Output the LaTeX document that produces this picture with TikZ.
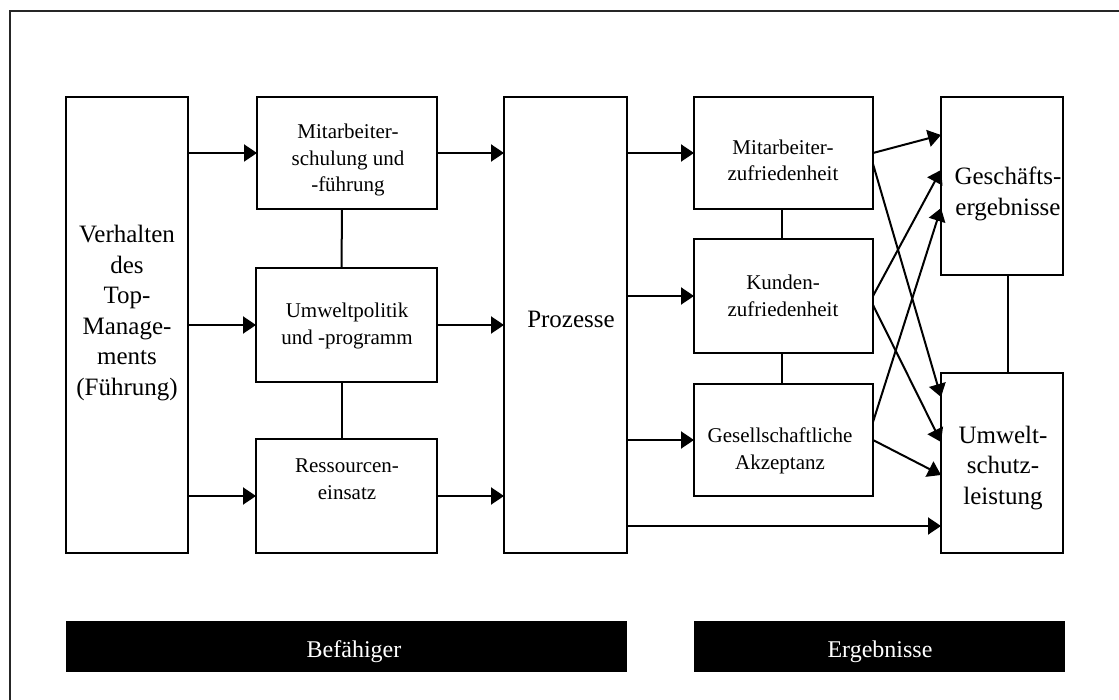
\documentclass[tikz,border=0pt]{standalone}
\usepackage{fontspec}
\setmainfont{Liberation Serif}
\usetikzlibrary{arrows.meta}
\begin{document}
\begin{tikzpicture}[x=1pt,y=-1pt,
  box/.style={draw=black,line width=2pt,inner sep=0pt,outer sep=0pt},
  bar/.style={fill=black,draw=none,inner sep=0pt,outer sep=0pt},
  bigtxt/.style={align=center,inner sep=0pt,font=\fontsize{25}{30.5}\selectfont},
  midtxt/.style={align=center,inner sep=0pt,font=\fontsize{21}{26.5}\selectfont},
  bartxt/.style={inner sep=0pt,text=white,font=\fontsize{24}{28}\selectfont},
  arr/.style={line width=2pt,-{Triangle[length=13pt,width=17pt]}},
  link/.style={line width=2pt}]
\useasboundingbox (0,0) rectangle (1119,700);
\clip (0,0) rectangle (1119,700);
% frame around the whole figure
\draw[line width=2.2pt,black!85] (10,11) rectangle (1140,720);

% enablers
\node[box,minimum width=122pt,minimum height=456pt] (lb) at (127,325) {};
\node[box,minimum width=180pt,minimum height=112pt] (ms) at (347,153) {};
\node[box,minimum width=181pt,minimum height=114pt] (up) at (346.5,325) {};
\node[box,minimum width=181pt,minimum height=114pt] (re) at (346.5,496) {};
\node[box,minimum width=123pt,minimum height=456pt] (pr) at (565.5,325) {};

% results
\node[box,minimum width=179pt,minimum height=112pt] (mz) at (783.5,153) {};
\node[box,minimum width=179pt,minimum height=114pt] (kz) at (783.5,296) {};
\node[box,minimum width=179pt,minimum height=112pt] (ga) at (783.5,440) {};
\node[box,minimum width=122pt,minimum height=178pt] (ge) at (1002,186) {};
\node[box,minimum width=122pt,minimum height=180pt] (us) at (1002,463) {};

% labels inside the boxes
\node[bigtxt] (lbt) at (127,313) {Verhalten\\des\\Top-\\Manage-\\ments\\(Führung)};
\node[bigtxt,anchor=base] (prt) at (571,328) {Prozesse};
\node[midtxt] (mst) at (348,160) {Mitarbeiter-\\schulung und\\-führung};
\node[midtxt] (upt) at (347,326) {Umweltpolitik\\und -programm};
\node[midtxt] (ret) at (347,479) {Ressourcen-\\einsatz};
\node[midtxt] (mzt) at (783,160.5) {Mitarbeiter-\\zufriedenheit};
\node[midtxt] (kzt) at (783,296) {Kunden-\\zufriedenheit};
\node[midtxt] (gat) at (780,451) {Gesellschaftliche\\Akzeptanz};
\node[bigtxt] (get) at (1008,194) {Geschäfts-\\ergebnisse};
\node[bigtxt] (ust) at (1003,468) {Umwelt-\\schutz-\\leistung};

% category bars
\node[bar,minimum width=561pt,minimum height=51pt] (bf) at (346.5,646.5) {};
\node[bar,minimum width=371pt,minimum height=51pt] (eg) at (879.5,646.5) {};
\node[bartxt,anchor=base] (bft) at (354,657) {Befähiger};
\node[bartxt,anchor=base] (egt) at (880,657) {Ergebnisse};

% leadership drives the enablers
\draw[arr] (lb.east |- ms.west) -- (ms.west);
\draw[arr] (lb.east |- up.west) -- (up.west);
\draw[arr] (lb.east |- re.west) -- (re.west);
% enablers feed the processes
\draw[arr] (ms.east) -- (ms.east -| pr.west);
\draw[arr] (up.east) -- (up.east -| pr.west);
\draw[arr] (re.east) -- (re.east -| pr.west);
% vertical ties between the enablers
\draw[link] ([xshift=-5pt]ms.south) -- ([xshift=-5pt]up.north);
\draw[link] ([xshift=-5pt]up.south) -- ([xshift=-5pt]re.north);

% processes lead to the results
\draw[arr] (pr.east |- mz.west) -- (mz.west);
\draw[arr] (pr.east |- kz.west) -- (kz.west);
\draw[arr] (pr.east |- ga.west) -- (ga.west);
\coordinate (pu) at ([yshift=27pt]us.south west);
\draw[arr] (pu -| pr.east) -- (pu);
% vertical ties between the results
\draw[link] ([xshift=-2pt]mz.south) -- ([xshift=-2pt]kz.north);
\draw[link] ([xshift=-2pt]kz.south) -- ([xshift=-2pt]ga.north);
\draw[link] ([xshift=6pt]ge.south) -- ([xshift=6pt]us.north);

% crossing arrows into the final outcomes
\draw[arr] (mz.east) -- ([yshift=-38pt]ge.north west);
\draw[arr] ([yshift=-11pt]mz.east) -- ([yshift=-24pt]us.north west);
\draw[arr] (kz.east) -- ([yshift=-73pt]ge.north west);
\draw[arr] ([yshift=-9pt]kz.east) -- ([yshift=-69pt]us.north west);
\draw[arr] ([yshift=18pt]ga.east) -- ([yshift=-111pt]ge.north west);
\draw[arr] (ga.east) -- ([yshift=-102pt]us.north west);
\end{tikzpicture}
\end{document}
